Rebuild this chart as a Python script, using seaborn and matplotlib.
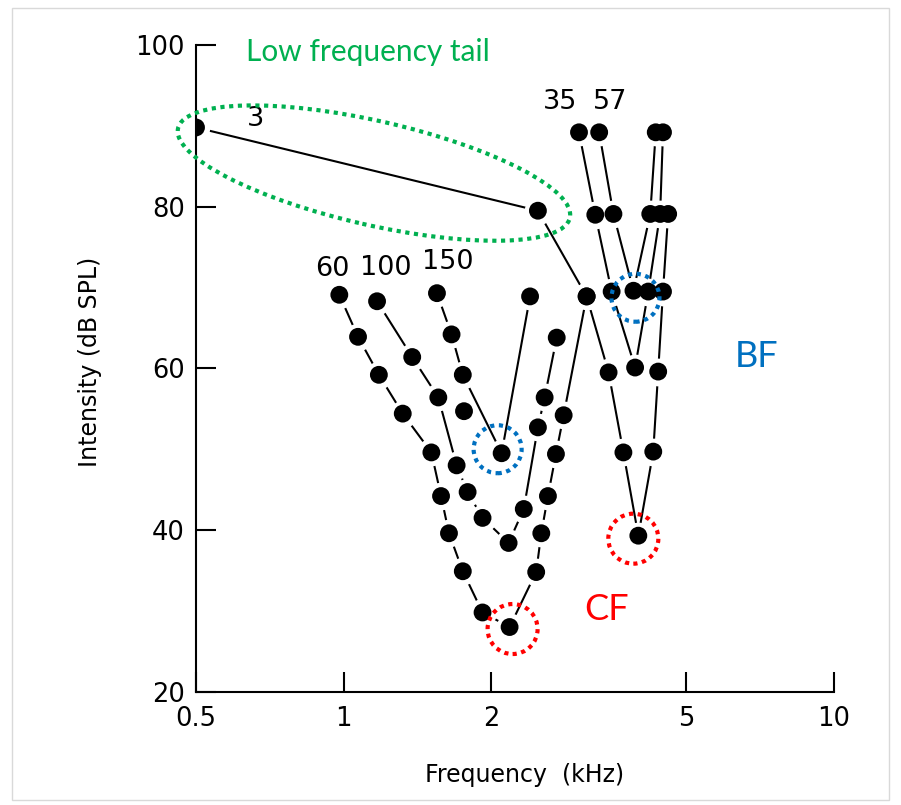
import numpy as np
import pandas as pd
import matplotlib
matplotlib.use("Agg")
import matplotlib.pyplot as plt
import seaborn as sns
from matplotlib.patches import Ellipse, Circle, Rectangle
from matplotlib.transforms import IdentityTransform

# ---------------- data ----------------
unit_labels = ["3", "35", "57", "60", "100", "150"]

freq_3 = [0.50, 2.49, 3.13, 3.47, 3.72, 3.99, 4.28, 4.38, 4.48, 4.59]
db_3 = [89.8, 79.5, 68.9, 59.5, 49.6, 39.3, 49.7, 59.6, 69.5, 79.1]

freq_35 = [3.02, 3.26, 3.52, 3.93, 4.18, 4.42, 4.48]
db_35 = [89.2, 79.0, 69.5, 60.1, 69.5, 79.1, 89.2]

freq_57 = [3.32, 3.55, 3.90, 4.22, 4.33]
db_57 = [89.2, 79.1, 69.6, 79.1, 89.2]

freq_60 = [0.98, 1.07, 1.18, 1.32, 1.51, 1.58, 1.64, 1.75, 1.92, 2.18,
           2.47, 2.53, 2.61, 2.71, 2.81, 3.13]
db_60 = [69.1, 63.9, 59.2, 54.4, 49.6, 44.2, 39.6, 34.9, 29.8, 28.0,
         34.8, 39.6, 44.2, 49.4, 54.2, 68.9]

freq_100 = [1.17, 1.38, 1.56, 1.70, 1.79, 1.92, 2.17, 2.33, 2.49, 2.57, 2.72]
db_100 = [68.3, 61.4, 56.4, 48.0, 44.7, 41.5, 38.4, 42.6, 52.7, 56.4, 63.8]

freq_150 = [1.55, 1.66, 1.75, 2.10, 2.40]
db_150 = [69.3, 64.2, 59.2, 49.5, 68.9]

stray_freq = [1.76]
stray_db = [54.7]

# curve label anchor positions (data coords)
label_freq = [0.66, 2.76, 3.49, 0.95, 1.22, 1.63]
label_db = [90.8, 93.0, 93.0, 72.3, 72.4, 73.1]

x_ticks = [0.5, 1, 2, 5, 10]
x_ticklabels = ["0.5", "1", "2", "5", "10"]
y_ticks = [20, 40, 60, 80, 100]

# ---------------- build table ----------------
curves = {
    "3": (freq_3, db_3), "35": (freq_35, db_35), "57": (freq_57, db_57),
    "60": (freq_60, db_60), "100": (freq_100, db_100), "150": (freq_150, db_150),
}
rows = []
for uid, (fs, ds) in curves.items():
    for i, (f, d) in enumerate(zip(fs, ds)):
        rows.append({"unit": uid, "order": i, "freq": f, "db": d})
df = pd.DataFrame(rows)
stray = pd.DataFrame({"freq": stray_freq, "db": stray_db})

# ---------------- figure ----------------
sns.set_theme(style="ticks")
plt.rcParams["font.family"] = ["DejaVu Sans"]

W, H = 901, 805
fig = plt.figure(figsize=(W / 100, H / 100), dpi=100)
fig.patch.set_facecolor("white")
x0, x1, y0, y1 = 196, 834, 45, 691.7
ax = fig.add_axes([x0 / W, 1 - y1 / H, (x1 - x0) / W, (y1 - y0) / H])
ax.set_facecolor("white")
ax.set_xscale("log")
ax.set_xlim(0.5, 10)
ax.set_ylim(20, 100)

# lines with white "halo" markers so lines stop short of each dot
for uid in unit_labels:
    sub = df[df["unit"] == uid]
    sns.lineplot(data=sub, x="freq", y="db", sort=False, estimator=None,
                 color="black", lw=1.5, marker="o", markersize=20,
                 markerfacecolor="white", markeredgecolor="white",
                 markeredgewidth=0, ax=ax, legend=False, zorder=2)

# black dots on top
sns.scatterplot(data=df, x="freq", y="db", color="black", s=165,
                edgecolor="none", ax=ax, legend=False, zorder=4)
sns.scatterplot(data=stray, x="freq", y="db", color="black", s=165,
                edgecolor="none", ax=ax, legend=False, zorder=4)

# curve labels
for t, f, d in zip(unit_labels, label_freq, label_db):
    ax.text(f, d, t, ha="center", va="center", fontsize=19.5, color="black", zorder=5)

# axes styling
ax.set_xticks(x_ticks)
ax.set_xticklabels(x_ticklabels)
ax.xaxis.set_minor_locator(matplotlib.ticker.NullLocator())
ax.set_yticks(y_ticks)
ax.tick_params(axis="both", which="major", direction="in", length=14.5,
               width=1.5, labelsize=18.5, colors="black")
ax.tick_params(axis="x", pad=10)
ax.tick_params(axis="y", pad=8)
for s in ["top", "right"]:
    ax.spines[s].set_visible(False)
for s in ["left", "bottom"]:
    ax.spines[s].set_linewidth(1.5)
    ax.spines[s].set_color("black")

ax.set_xlabel("Frequency  (kHz)", fontsize=17, color="black")
ax.set_ylabel("Intensity (dB SPL)", fontsize=17, color="black")
ax.xaxis.set_label_coords((525 - x0) / (x1 - x0), -(763 - y1) / (y1 - y0))
ax.yaxis.set_label_coords(-(196 - 102) / (x1 - x0), (y1 - 362) / (y1 - y0))

# ---------------- highlight shapes (pixel space, anchored on data) ----------------
fig.canvas.draw()
to_px = ax.transData.transform
dot = (0, (1, 1.1))

p0 = to_px((freq_3[0], db_3[0]))
p1 = to_px((freq_3[1], db_3[1]))
cx, cy = (p0 + p1) / 2 + np.array([7, -4])
ang = np.degrees(np.arctan2(p1[1] - p0[1], p1[0] - p0[0])) + 0.8
length = np.hypot(*(p1 - p0)) + 50
fig.patches.append(Ellipse((cx, cy), length, 104, angle=ang, fill=False,
                           ec="#00b050", lw=3.0, ls=dot,
                           transform=IdentityTransform(), figure=fig))

def ring(f, d, color, dx=0, dy=0, r=24):
    c = to_px((f, d)) + np.array([dx, dy])
    fig.patches.append(Circle(c, r, fill=False, ec=color, lw=3.0, ls=dot,
                              transform=IdentityTransform(), figure=fig))

ring(freq_150[3], db_150[3], "#0070c0", dx=-4, dy=4)
ring(freq_57[2], db_57[2], "#0070c0", dx=2, dy=-7)
ring(freq_60[9], db_60[9], "#ff0000", dx=3, dy=-2, r=25)
ring(freq_3[5], db_3[5], "#ff0000", dx=-5, dy=-3, r=25)

# light frame around the slide
fig.patches.append(Rectangle((12, 5), W - 24, H - 13, fill=False,
                             ec="#d9d9d9", lw=1.0,
                             transform=IdentityTransform(), figure=fig))

# annotation texts
fig.text(368 / W, 1 - 52 / H, "Low frequency tail", color="#00b050",
         fontsize=21.5, family=["Lato", "DejaVu Sans"], ha="center", va="center")
fig.text(757 / W, 1 - 356 / H, "BF", color="#0070c0", fontsize=26,
         family=["Lato", "DejaVu Sans"], ha="center", va="center")
fig.text(607 / W, 1 - 609 / H, "CF", color="#ff0000", fontsize=26,
         family=["Lato", "DejaVu Sans"], ha="center", va="center")

fig.savefig("out.png", dpi=100, facecolor="white")
